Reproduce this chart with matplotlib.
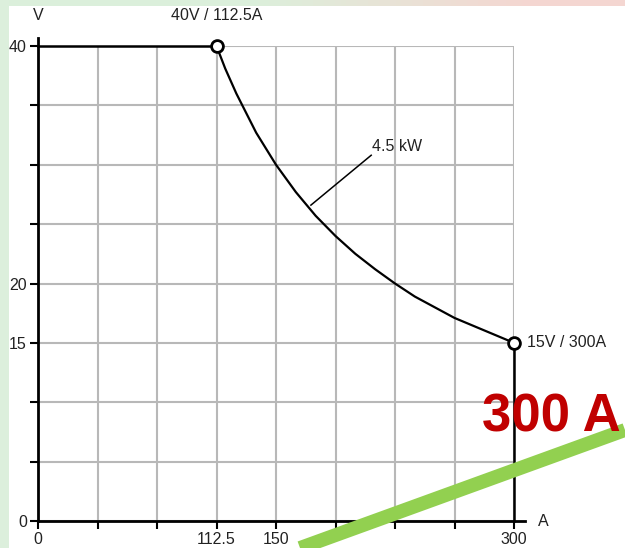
import numpy as np
import matplotlib.pyplot as plt
from matplotlib.lines import Line2D

plt.rcParams['font.family'] = ['Liberation Sans', 'DejaVu Sans']

# constant-power segment of the V/I envelope (4.5 kW)
current = [112.5, 118, 125, 137.5, 150, 162.5, 175, 187.5, 200, 212.5,
           225, 237.5, 250, 262.5, 275, 287.5, 300]
voltage = [40.0, 38.1, 36.0, 32.7, 30.0, 27.7, 25.7, 24.0, 22.5, 21.2,
           20.0, 18.9, 18.0, 17.1, 16.4, 15.7, 15.0]

x_ticks = [0, 37.5, 75, 112.5, 150, 187.5, 225, 262.5, 300]
x_labels = ['0', '', '', '112.5', '150', '', '', '', '300']
y_ticks = [0, 5, 10, 15, 20, 25, 30, 35, 40]
y_labels = ['0', '', '', '15', '20', '', '', '', '40']

corner_pts = [(112.5, 40, '40V / 112.5A'), (300, 15, '15V / 300A')]

FS = 11.5
TXT = '#222222'

fig = plt.figure(figsize=(6.25, 5.48), dpi=100)

# page background strips
bg = fig.add_axes([0, 0, 1, 1], zorder=-5)
bg.set_axis_off()
bg.set_xlim(0, 625)
bg.set_ylim(548, 0)
bg.add_patch(plt.Rectangle((0, 0), 9, 548, color='#dcefdc', lw=0))
grad = np.linspace(0, 1, 256)
green = np.array([0.86, 0.94, 0.86])
pink = np.array([0.96, 0.84, 0.82])
mix = np.clip((grad - 0.4) / 0.45, 0, 1)[:, None]
strip = (green * (1 - mix) + pink * mix)[None, :, :]
bg.imshow(strip, extent=(0, 625, 6, 0), aspect='auto')
bg.add_patch(plt.Rectangle((9, 6), 616, 542, color='white', lw=0))

ax = fig.add_axes([38 / 625, 27 / 548, 476 / 625, 475 / 548])
ax.set_xlim(0, 300)
ax.set_ylim(0, 40)
for s in ax.spines.values():
    s.set_visible(False)
ax.patch.set_alpha(0)

ax.set_xticks(x_ticks)
ax.set_xticklabels(x_labels)
ax.set_yticks(y_ticks)
ax.set_yticklabels(y_labels)
ax.tick_params(direction='out', length=6, width=1.5, color='black',
               labelsize=FS, labelcolor=TXT, pad=2)
ax.grid(True, color='#b8b8b8', lw=1.5)

# axes lines drawn by hand so they run past the last gridline
ax.add_line(Line2D([0, 0], [0, 40.7], color='black', lw=2, clip_on=False, zorder=3))
ax.add_line(Line2D([0, 307], [0, 0], color='black', lw=2, clip_on=False, zorder=3))
ax.text(0, 41.9, 'V', ha='center', va='bottom', fontsize=FS, color=TXT)
ax.text(315, 0, 'A', ha='left', va='center', fontsize=FS, color=TXT)

# envelope
ax.plot([0, 112.5], [40, 40], color='black', lw=1.8, clip_on=False, zorder=4)
ax.plot(current, voltage, color='black', lw=1.6, zorder=4)
ax.plot([300, 300], [15, 0], color='black', lw=1.8, clip_on=False, zorder=4)

for xp, yp, txt in corner_pts:
    ax.plot(xp, yp, 'o', ms=8.5, mfc='white', mec='black', mew=2,
            clip_on=False, zorder=5)
ax.text(112.5, 41.9, corner_pts[0][2], ha='center', va='bottom',
        fontsize=FS, color=TXT)
ax.text(308, 15, corner_pts[1][2], ha='left', va='center',
        fontsize=FS, color=TXT)

# power label with leader
ax.plot([172, 210], [26.6, 30.8], color='black', lw=1.1, zorder=4)
ax.text(210.5, 30.9, '4.5 kW', ha='left', va='bottom',
        fontsize=FS, color=TXT)

# overlay callout
fig.text(482 / 625, 1 - 431 / 548, '300 A', color='#c00000',
         fontsize=38, fontweight='bold', ha='left', va='baseline')
fig.add_artist(Line2D([300 / 625, 1.0], [0, 1 - 430 / 548],
                      color='#92d050', lw=10, solid_capstyle='butt'))

fig.savefig('out.png', dpi=100)
